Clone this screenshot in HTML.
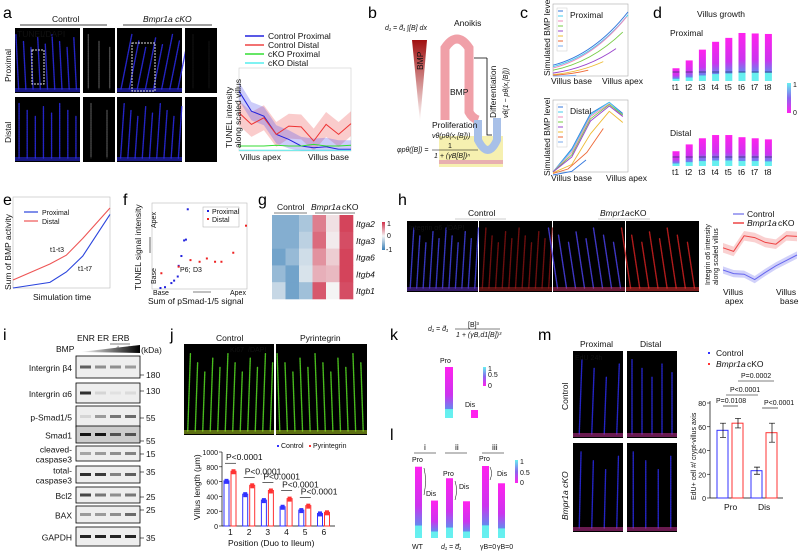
<!DOCTYPE html>
<html><head><meta charset="utf-8">
<style>
html,body{margin:0;padding:0;background:#fff;}
svg{display:block;font-family:"Liberation Sans",sans-serif;}
.pl{font-size:16px;fill:#000;}
.t{font-size:8.5px;fill:#111;}
.s{font-size:7px;fill:#111;}
</style></head>
<body>
<svg id="fig" width="800" height="552" viewBox="0 0 800 552" xmlns="http://www.w3.org/2000/svg">
<defs>
<linearGradient id="bmpTri" x1="0" y1="0" x2="0" y2="1"><stop offset="0" stop-color="#a01010"/><stop offset="1" stop-color="#fff"/></linearGradient>
<linearGradient id="vil" x1="0" y1="0" x2="0" y2="1"><stop offset="0" stop-color="#ff22ee"/><stop offset="0.55" stop-color="#cc33ee"/><stop offset="0.82" stop-color="#6688ee"/><stop offset="0.83" stop-color="#66eeee"/><stop offset="1" stop-color="#66f0f0"/></linearGradient>
<linearGradient id="cbar" x1="0" y1="0" x2="0" y2="1"><stop offset="0" stop-color="#66f0f0"/><stop offset="0.5" stop-color="#8866ee"/><stop offset="1" stop-color="#ff22ee"/></linearGradient>
<linearGradient id="hbar" x1="0" y1="0" x2="0" y2="1"><stop offset="0" stop-color="#d0304a"/><stop offset="0.5" stop-color="#f4f4f4"/><stop offset="1" stop-color="#3a80b8"/></linearGradient>
<linearGradient id="wedge" x1="0" y1="0" x2="1" y2="0"><stop offset="0" stop-color="#fff"/><stop offset="1" stop-color="#000"/></linearGradient>
</defs>
<g id="root"></g>
</svg>
<script>
// ---------- data arrays ----------
var aCtrlProx=[0.72,0.48,0.42,0.2,0.14,0.06,0.04,0.05,0.02,0.02];
var aCtrlDist=[0.46,0.32,0.4,0.2,0.3,0.29,0.12,0.32,0.2,0.33];
var aCkoProx=[0.06,0.06,0.06,0.07,0.06,0.06,0.08,0.06,0.06,0.07];
var aCkoDist=[0.01,0.01,0.01,0.01,0.01,0.01,0.01,0.01,0.01,0.01];
var cProxEndX=[1.0,1.0,0.98,0.93,0.84,0.67,0.47,0.31];
var cProxY0=[0.15,0.13,0.11,0.08,0.04,0.02,0.01,0.0];
var cProxY1=[0.89,0.85,0.82,0.61,0.38,0.2,0.08,0.01];
var cDistA=[[0.04,0.35,0.82,0.97,0.82],[0.04,0.33,0.8,0.97,0.8],[0.04,0.3,0.78,0.95,0.78],[0.04,0.27,0.75,0.94,0.8],[0.04,0.24,0.72,0.92,0.78],[0.03,0.14,0.55,0.85,0.7]];
var cDistRed=[0.02,0.08,0.3,0.62];
var cDistBlue=[0.0,0.05,0.2];
var dProxTop=[0.26,0.42,0.64,0.8,0.88,0.98,0.97,0.96];
var dDistTop=[0.41,0.6,0.77,0.86,0.86,0.8,0.77,0.74];
var dTicks=["t1","t2","t3","t4","t5","t6","t7","t8"];
var eTime=[0,0.38,0.55,0.72,1.0];
var eProx=[0.0,0.07,0.2,0.4,0.92];
var eDist=[0.1,0.3,0.41,0.62,1.0];
var fProxX=[0.36,0.34,0.32,0.29,0.26,0.25,0.21,0.18,0.11,0.06];
var fProxY=[0.96,0.59,0.58,0.39,0.27,0.14,0.09,0.06,0.01,0.0];
var fDistX=[1.0,0.86,0.73,0.66,0.57,0.49,0.39,0.26,0.07];
var fDistY=[0.76,0.43,0.32,0.32,0.36,0.32,0.34,0.26,0.18];
var gRows=["Itga2","Itga3","Itga6","Itgb4","Itgb1"];
var gVals=[[-0.6,-0.6,-0.4,0.6,0.1,0.9],[-0.6,-0.6,-0.3,0.7,0.05,0.85],[-0.7,-0.5,-0.2,0.5,0.2,0.9],[-0.5,-0.7,-0.15,0.35,0.3,0.9],[-0.25,-0.7,-0.45,0.8,0.0,0.85]];
var hCtrl=[0.25,0.19,0.18,0.09,0.21,0.32,0.41,0.5];
var hCko=[0.62,0.56,0.82,0.79,0.71,0.68,0.82,0.81];
var iRows=["Intergrin \u03b24","Intergrin \u03b16","p-Smad1/5","Smad1","cleaved-caspase3","total-caspase3","Bcl2","BAX","GAPDH"];
var iKda=["180","130","55","55","15","35","25","25","35"];
var iBand=[[0.6,0.4,0.4,0.35],[0.8,0.1,0.05,0.08],[0.1,0.35,0.5,0.55],[0.9,0.9,0.6,0.6],[0.3,0.35,0.4,0.45],[0.8,0.75,0.45,0.6],[0.7,0.5,0.4,0.5],[0.35,0.35,0.4,0.55],[0.85,0.85,0.85,0.85]];
var jPos=["1","2","3","4","5","6"];
var jCtrl=[610,430,350,260,215,170];
var jPyr=[740,550,480,370,275,185];
var jP=["P<0.0001","P<0.0001","P<0.0001","P<0.0001","P<0.0001"];
var jTicks=[0,200,400,600,800,1000];
var kProTop=[1.0];
var lTop=[0.99,0.52,0.83,0.51,1.0,0.76];
var lLab=["WT","d\u2081 = d\u0305\u2081","\u03b3B=0","\u03b3B=0"];
var mCats=["Pro","Dis"];
var mCtrl=[57,23];
var mCko=[63,55];
var mErrC=[6,3];
var mErrK=[4,8];
var mTicks=[0,20,40,60,80];

// ---------- helpers ----------
var NS="http://www.w3.org/2000/svg";
var root=document.getElementById('root');
function mk(tag,at,par){var e=document.createElementNS(NS,tag);for(var k in at)e.setAttribute(k,at[k]);(par||root).appendChild(e);return e;}
function tx(x,y,s,cls,extra){var e=mk('text',Object.assign({x:x,y:y,'class':cls||'t'},extra||{}));e.textContent=s;return e;}
function lin(d0,d1,r0,r1){return function(v){return r0+(v-d0)/(d1-d0)*(r1-r0);};}
function pathOf(xs,ys){var d='';for(var i=0;i<xs.length;i++)d+=(i?'L':'M')+xs[i].toFixed(1)+' '+ys[i].toFixed(1);return d;}
var el;

// panel labels
[["a",3,18],["b",368,18],["c",520,18],["d",653,18],["e",3,205],["f",123,205],["g",258,205],["h",398,205],["i",3,340],["j",170,340],["k",390,340],["l",390,440],["m",538,340]].forEach(function(p){
 el=tx(p[1],p[2],p[0],'pl');
 
 
});

// micrograph helper
function micro(x,y,w,h,col,n,name,tilt,col2){
 var g=mk('g',{});
 
 
 mk('rect',{x:x,y:y,width:w,height:h,fill:'#000'},g);
 for(var i=0;i<n;i++){
  var bx=x+(i+0.5)*w/n, top=y+h*(0.1+0.25*((i*37)%5)/5);
  mk('path',{d:'M'+bx+' '+(y+h-4)+' L'+(bx+tilt*(y+h-top)/h)+' '+top,stroke:col,'stroke-width':1.4,fill:'none','stroke-linecap':'round','stroke-dasharray':'1.5,0.8',opacity:0.85},g);
 }
 mk('rect',{x:x,y:y+h-5,width:w,height:4,fill:col2||col,opacity:0.55},g);
 return g;
}

// ---------- panel a ----------
tx(52,22,'Control','t');
mk('line',{x1:20,y1:25,x2:107,y2:25,stroke:'#000','stroke-width':0.8});
el=tx(143,22,'Bmpr1a cKO','t',{'font-style':'italic'});
mk('line',{x1:123,y1:25,x2:212,y2:25,stroke:'#000','stroke-width':0.8});
micro(15,28,65,65,'#2a2ae8',9,'a-control-proximal-image',-3);
micro(83,28,32,65,'#555',3,'a-control-proximal-zoom',0,'#000');
micro(117,28,65,65,'#2a2ae8',8,'a-cko-proximal-image',12);
micro(185,28,32,65,'#111',2,'a-cko-proximal-zoom',0,'#000');
micro(15,97,65,65,'#2a2ae8',8,'a-control-distal-image',0);
micro(83,97,32,65,'#555',2,'a-control-distal-zoom',0,'#000');
micro(117,97,65,65,'#2a2ae8',9,'a-cko-distal-image',4);
micro(185,97,32,65,'#000',1,'a-cko-distal-zoom',0,'#000');
tx(17,37,'TUNEL','t',{fill:'#e00','font-size':'8px'});
tx(43,37,'/DAPI','t',{fill:'#33f','font-size':'8px'});
tx(11,82,'Proximal','t',{transform:'rotate(-90 11 82)'});
tx(11,143,'Distal','t',{transform:'rotate(-90 11 143)'});
mk('rect',{x:32,y:50,width:12,height:34,fill:'none',stroke:'#ddd','stroke-dasharray':'2,1'});
mk('rect',{x:132,y:43,width:23,height:48,fill:'none',stroke:'#ddd','stroke-dasharray':'2,1'});
(function(){
 var X=lin(0,9,239,351),Y=lin(0,1,151,68);
 var g=mk('g',{});
 mk('rect',{x:239,y:68,width:112,height:83,fill:'#fff',stroke:'#ccc','stroke-width':0.6},g);
 function band(arr,w,col,name){
  var xs=[],yu=[],yd=[];for(var i=0;i<arr.length;i++){xs.push(X(i));yu.push(Y(arr[i]+w));yd.push(Y(Math.max(0,arr[i]-w)));}
  var d=pathOf(xs,yu);for(var j=xs.length-1;j>=0;j--)d+='L'+xs[j]+' '+yd[j];
  el=mk('path',{d:d+'Z',fill:col,opacity:0.3},g);
  
  
 }
 function line(arr,col,name){var xs=[],ys=[];for(var i=0;i<arr.length;i++){xs.push(X(i));ys.push(Y(arr[i]));}
  el=mk('path',{d:pathOf(xs,ys),stroke:col,'stroke-width':1,fill:'none'},g);
  
  }
 band(aCtrlDist,0.15,'#e55','control-distal');band(aCtrlProx,0.11,'#55e','control-proximal');
 line(aCtrlProx,'#22d','control-proximal-line');line(aCtrlDist,'#e33','control-distal-line');
 line(aCkoProx,'#3d3','cko-proximal-line');line(aCkoDist,'#5ee','cko-distal-line');
 var L=[['Control Proximal','#22d'],['Control Distal','#e44'],['cKO Proximal','#3d3'],['cKO Distal','#5ee']];
 L.forEach(function(l,i){var yy=36+i*9;
  el=mk('line',{x1:245,y1:yy,x2:264,y2:yy,stroke:l[1],'stroke-width':1.5});
  
  
  tx(268,yy+3,l[0],'t');});
 tx(240,160,'Villus apex','t');tx(308,160,'Villus base','t');
 tx(232,148,'TUNEL intensity','t',{transform:'rotate(-90 232 148)'});
 tx(241,148,'along scaled villus','t',{transform:'rotate(-90 241 148)'});
})();

// ---------- panel b ----------
(function(){
 var g=mk('g',{});
 mk('rect',{x:439,y:136,width:64,height:31,fill:'#f6f0b0'},g);
 mk('rect',{x:439,y:160,width:64,height:4,fill:'#e8b0b0'},g);
 mk('polygon',{points:'412,40 427,40 420,122',fill:'url(#bmpTri)'},g);
 tx(423,70,'BMP','t',{transform:'rotate(-90 423 70)',fill:'#fff'});
 mk('path',{d:'M445 120 L445 48 Q457 30 469 48 L469 112 Q472 118 478 120',stroke:'#f0a0a8','stroke-width':9,fill:'none'},g);
 mk('path',{d:'M478 120 L478 140 Q488 160 497 140 L497 118',stroke:'#a8c0e8','stroke-width':8,fill:'none'},g);
 tx(450,95,'BMP','t');
 tx(432,128,'Proliferation','t');
 tx(432,138,'v\u03b8(p\u03b8(x,[B]))','s',{'font-style':'italic'});
 tx(397,152,'\u03c6p\u03b8([B]) =','s',{'font-style':'italic'});
 tx(448,148,'1','s');mk('line',{x1:432,y1:150,x2:478,y2:150,stroke:'#000','stroke-width':0.5},g);
 tx(434,158,'1 + (\u03b3B[B])\u207f','s',{'font-style':'italic'});
 tx(385,30,'d\u2081 = d\u0303\u2081 \u222b[B] dx','s',{'font-style':'italic'});
 tx(454,26,'Anoikis','t');
 mk('path',{d:'M487 58 L474 58 M487 58 L487 135 L492 135',stroke:'#000','stroke-width':0.8,fill:'none'},g);
 tx(496,118,'Differentiation','t',{transform:'rotate(-90 496 118)'});
 tx(508,118,'v\u03b8(1 \u2212 p\u03b8(x,[B]))','s',{transform:'rotate(-90 508 118)','font-style':'italic'});
})();

// ---------- panel c ----------
(function(){
 var cols=['#3377dd','#44ccee','#ee88bb','#77cc44','#9944cc','#eebb33','#ee6633','#77aaee'];
 function frame(y0,name,title){
  var g=mk('g',{});
  mk('rect',{x:553,y:y0,width:75,height:72,fill:'#fff',stroke:'#aaa','stroke-width':0.6},g);
  mk('rect',{x:557,y:y0+4,width:10,height:43,fill:'#fff',stroke:'#ccc','stroke-width':0.5},g);
  for(var i=0;i<8;i++)mk('line',{x1:558,y1:y0+7+i*5,x2:563,y2:y0+7+i*5,stroke:cols[i],'stroke-width':1},g);
  tx(570,y0+14,title,'t');
  return g;}
 var g1=frame(4,'c-proximal-chart','Proximal');
 var X=lin(0,1,553,628),Y=lin(0,1,76,4);
 for(var i=0;i<8;i++){var ex=cProxEndX[i],a=cProxY0[i],b=cProxY1[i];
  el=mk('path',{d:'M'+X(0)+' '+Y(a)+' Q'+X(ex*0.55)+' '+Y(a+(b-a)*0.2)+' '+X(ex)+' '+Y(b),stroke:cols[i],'stroke-width':0.9,fill:'none'},g1);
  
  }
 var g2=frame(100,'c-distal-chart','Distal');
 var Y2=lin(0,1,175,100),xs=[0,0.25,0.5,0.75,0.93];
 for(var j=0;j<cDistA.length;j++){var ys=cDistA[j].map(Y2);
  el=mk('path',{d:pathOf(xs.map(X),ys),stroke:cols[j],'stroke-width':0.9,fill:'none','stroke-linejoin':'round'},g2);
  
  }
 el=mk('path',{d:pathOf([0,0.2,0.45,0.67].map(X),cDistRed.map(Y2)),stroke:'#ee6633','stroke-width':0.9,fill:'none'},g2);
 
 
 el=mk('path',{d:pathOf([0,0.25,0.44].map(X),cDistBlue.map(Y2)),stroke:'#3377dd','stroke-width':0.9,fill:'none'},g2);
 
 
 tx(551,84,'Villus base','t');tx(602,84,'Villus apex','t');
 tx(551,181,'Villus base','t');tx(606,181,'Villus apex','t');
 tx(550,76,'Simulated BMP level','t',{transform:'rotate(-90 550 76)'});
 tx(550,176,'Simulated BMP level','t',{transform:'rotate(-90 550 176)'});
})();

// ---------- panel d ----------
(function(){
 tx(697,17,'Villus growth','t');
 tx(670,36,'Proximal','t');tx(670,136,'Distal','t');
 var X=function(i){return 676+i*13.2;};
 function bars(tops,base,h,name){
  for(var i=0;i<tops.length;i++){var top=base-tops[i]*h;
   el=mk('rect',{x:X(i)-3.5,y:top,width:7,height:base-top,fill:'url(#vil)'});
   
   
   mk('line',{x1:X(i)-3.5,y1:base-9,x2:X(i)+3.5,y2:base-9,stroke:'#236','stroke-width':0.7});
   tx(X(i)-4,base+9,dTicks[i],'t');}
 }
 bars(dProxTop,81,49,'d-proximal-bar');
 bars(dDistTop,166,36,'d-distal-bar');
 el=mk('rect',{x:787,y:83,width:4,height:30,fill:'url(#cbar)'});
 
 
 tx(793,87,'1','s');tx(793,115,'0','s');
})();

// ---------- panel e ----------
(function(){
 var X=lin(0,1,13,110),Y=lin(0,1,288,208);
 mk('rect',{x:13,y:197,width:97,height:91,fill:'none',stroke:'#bbb','stroke-width':0.6});
 el=mk('path',{d:pathOf(eTime.map(X),eProx.map(Y)),stroke:'#2a44dd','stroke-width':1.1,fill:'none'});
 
 
 el=mk('path',{d:pathOf(eTime.map(X),eDist.map(Y)),stroke:'#e55','stroke-width':1.1,fill:'none'});
 
 
 mk('line',{x1:24,y1:212,x2:38,y2:212,stroke:'#2a44dd','stroke-width':1.2});tx(42,215,'Proximal','s');
 mk('line',{x1:24,y1:221,x2:38,y2:221,stroke:'#e55','stroke-width':1.2});tx(42,224,'Distal','s');
 tx(50,252,'t1-t3','s',{fill:'#c33'});tx(78,271,'t1-t7','s',{fill:'#48c'});
 tx(33,300,'Simulation time','t');
 tx(11,290,'Sum of BMP activity','t',{transform:'rotate(-90 11 290)'});
})();

// ---------- panel f ----------
(function(){
 var X=lin(0,1,155,246),Y=lin(0,1,288,206);
 mk('rect',{x:152,y:203,width:95,height:86,fill:'none',stroke:'#bbb','stroke-width':0.6});
 for(var i=0;i<fProxX.length;i++){el=mk('rect',{x:X(fProxX[i])-1,y:Y(fProxY[i])-1,width:2,height:2,fill:'#22d'});
  
  }
 for(var j=0;j<fDistX.length;j++){el=mk('rect',{x:X(fDistX[j])-1,y:Y(fDistY[j])-1,width:2,height:2,fill:'#e22'});
  
  }
 mk('rect',{x:203,y:207,width:36,height:20,fill:'#fff',stroke:'#aaa','stroke-width':0.5});
 mk('rect',{x:207,y:210,width:2,height:2,fill:'#22d'});tx(212,214,'Proximal','s');
 mk('rect',{x:207,y:218,width:2,height:2,fill:'#e22'});tx(212,222,'Distal','s');
 tx(180,272,'P6;','s',{fill:'#33e'});tx(193,272,'D3','s',{fill:'#e33'});
 tx(153,295,'Base','s');tx(230,295,'Apex','s');
 mk('line',{x1:193,y1:292,x2:211,y2:292,stroke:'#000','stroke-width':0.6});
 tx(144,228,'Apex','s',{transform:'rotate(-90 150 222)'});
 tx(144,284,'Base','s',{transform:'rotate(-90 150 278)'});
 mk('line',{x1:150,y1:237,x2:150,y2:253,stroke:'#000','stroke-width':0.6});
 tx(148,304,'Sum of pSmad-1/5 signal','t');
 tx(141,290,'TUNEL signal intensity','t',{transform:'rotate(-90 141 290)'});
})();

// ---------- panel g ----------
(function(){
 tx(277,210,'Control','t');mk('line',{x1:274,y1:213,x2:307,y2:213,stroke:'#000','stroke-width':0.6});
 tx(311,210,'Bmpr1a','t',{'font-style':'italic'});tx(342,210,'cKO','t');mk('line',{x1:315,y1:213,x2:355,y2:213,stroke:'#000','stroke-width':0.6});
 function col(v){var a=Math.abs(v);var c=v<0?[58,128,184]:[208,48,74];
  var r=Math.round(244+(c[0]-244)*a),g=Math.round(244+(c[1]-244)*a),b=Math.round(244+(c[2]-244)*a);return 'rgb('+r+','+g+','+b+')';}
 var cw=13.5,rh=16.8;
 for(var r=0;r<gVals.length;r++){for(var c=0;c<gVals[r].length;c++){
  el=mk('rect',{x:272+c*cw,y:215+r*rh,width:cw+0.3,height:rh+0.3,fill:col(gVals[r][c])});
  
  }
  tx(356,215+r*rh+12,gRows[r],'t',{'font-style':'italic'});}
 el=mk('rect',{x:382,y:222,width:3,height:28,fill:'url(#hbar)'});
 
 
 tx(387,226,'1','s');tx(387,238,'0','s');tx(386,252,'-1','s');
})();

// ---------- panel h ----------
tx(468,216,'Control','t');mk('line',{x1:455,y1:219,x2:506,y2:219,stroke:'#999','stroke-width':0.6});
tx(600,216,'Bmpr1a','t',{'font-style':'italic'});tx(630,216,'cKO','t');mk('line',{x1:598,y1:219,x2:650,y2:219,stroke:'#999','stroke-width':0.6});
micro(407,221,71,71,'#4040e0',11,'h-control-merge',4,'#6030c0');
micro(479,221,73,71,'#801010',11,'h-control-integrin',4,'#a02020');
micro(553,221,72,71,'#4a40e8',8,'h-cko-merge',-10,'#c03060');
micro(626,221,73,71,'#d02020',8,'h-cko-integrin',-10,'#e03030');
tx(409,230,'Integrin \u03b16','s',{fill:'#f33'});tx(446,230,'/DAPI','s',{fill:'#55f'});
(function(){
 var X=lin(0,7,723,797),Y=lin(0,1,285,225);
 function band(arr,w,col,name){var xs=[],yu=[],yd=[];for(var i=0;i<arr.length;i++){xs.push(X(i));yu.push(Y(arr[i]+w));yd.push(Y(arr[i]-w));}
  var d=pathOf(xs,yu);for(var j=xs.length-1;j>=0;j--)d+='L'+xs[j]+' '+yd[j];
  el=mk('path',{d:d+'Z',fill:col,opacity:0.3});
  
  }
 band(hCtrl,0.06,'#66e','h-control-band');band(hCko,0.08,'#e66','h-cko-band');
 el=mk('path',{d:pathOf(hCtrl.map(function(v,i){return X(i);}),hCtrl.map(Y)),stroke:'#66e','stroke-width':1,fill:'none'});
 
 
 el=mk('path',{d:pathOf(hCko.map(function(v,i){return X(i);}),hCko.map(Y)),stroke:'#e44','stroke-width':1,fill:'none'});
 
 
 mk('line',{x1:733,y1:214,x2:744,y2:214,stroke:'#88e','stroke-width':1.5});tx(747,217,'Control','t');
 mk('line',{x1:733,y1:223,x2:744,y2:223,stroke:'#e44','stroke-width':1.5});tx(747,226,'Bmpr1a','t',{'font-style':'italic'});tx(778,226,'cKO','t');
 tx(723,295,'Villus','t');tx(725,304,'apex','t');tx(776,295,'Villus','t');tx(780,304,'base','t');
 tx(710,285,'Integrin \u03b16 intensity','s',{transform:'rotate(-90 710 285)'});
 tx(718,285,'along scaled villus','s',{transform:'rotate(-90 718 285)'});
})();

// ---------- panel i ----------
(function(){
 tx(77,341,'ENR ER','t');tx(112,341,'ERB','t');mk('line',{x1:110,y1:344,x2:130,y2:344,stroke:'#000','stroke-width':0.6});
 tx(56,352,'BMP','t');tx(116,350,'+','s');tx(127,350,'++','s');
 mk('polygon',{points:'80,352 140,345 140,353',fill:'url(#wedge)'});
 tx(141,353,'(kDa)','t');
 var tops=[356,383,406,426,446,466,487,506,527],bots=[378,403,427,443,461,483,503,523,546],kd=[375,391,418,441,454,472,497,510,538];
 for(var r=0;r<iRows.length;r++){
  var g=mk('g',{});
  mk('rect',{x:76,y:tops[r],width:64,height:bots[r]-tops[r],fill:(r==3?'#ccc':'#eee'),stroke:'#000','stroke-width':0.8},g);
  for(var c=0;c<4;c++){var v=iBand[r][c];
   el=mk('rect',{x:80+c*15,y:(tops[r]+bots[r])/2-1.5,width:11,height:3,fill:'#000',opacity:v},g);
   
   }
  mk('line',{x1:140,y1:kd[r],x2:144,y2:kd[r],stroke:'#000','stroke-width':0.6});
  tx(146,kd[r]+3,iKda[r],'t');
  var lab=iRows[r],mid=(tops[r]+bots[r])/2;
  if(lab.indexOf('-caspase3')>0){var p=lab.split('-');tx(72,mid-1,p[0]+'-','t',{'text-anchor':'end','font-size':'10px'});tx(72,mid+9,p[1],'t',{'text-anchor':'end','font-size':'10px'});}
  else tx(72,mid+4,lab,'t',{'text-anchor':'end','font-size':'10px'});
 }
})();

// ---------- panel j ----------
tx(216,341,'Control','t');tx(300,341,'Pyrintegrin','t');
micro(184,344,90,91,'#55dd22',12,'j-control-image',3,'#aacc22');
micro(276,344,91,91,'#55dd22',12,'j-pyrintegrin-image',-3,'#aacc22');
tx(230,352,'Ki67','s',{fill:'#f33'});tx(248,352,'/DAPI','s',{fill:'#6e3'});
(function(){
 var Y=lin(0,1000,526,452),X=function(i){return 230+i*18.7;};
 mk('line',{x1:222,y1:452,x2:222,y2:526,stroke:'#000','stroke-width':0.7});
 mk('line',{x1:222,y1:526,x2:335,y2:526,stroke:'#000','stroke-width':0.7});
 jTicks.forEach(function(t){mk('line',{x1:219,y1:Y(t),x2:222,y2:Y(t),stroke:'#000','stroke-width':0.6});tx(218,Y(t)+3,String(t),'s',{'text-anchor':'end'});});
 for(var i=0;i<jPos.length;i++){
  el=mk('rect',{x:X(i)-6,y:Y(jCtrl[i]),width:5,height:526-Y(jCtrl[i]),fill:'#fff',stroke:'#33f','stroke-width':1});
  
  
  el=mk('rect',{x:X(i)+1,y:Y(jPyr[i]),width:5,height:526-Y(jPyr[i]),fill:'#fff',stroke:'#f33','stroke-width':1});
  
  
  mk('rect',{x:X(i)-5.5,y:Y(jCtrl[i])-2,width:4,height:5,fill:'#33f'});
  mk('rect',{x:X(i)+1.5,y:Y(jPyr[i])-2,width:4,height:5,fill:'#f33'});
  tx(X(i)-2,535,jPos[i],'t');
  if(i<5){var yy=Y(jPyr[i])-8;mk('line',{x1:X(i)-5,y1:yy,x2:X(i)+6,y2:yy,stroke:'#000','stroke-width':0.6});tx(X(i)-4,yy-3,jP[i],'t');}
 }
 mk('rect',{x:277,y:445,width:2,height:2,fill:'#33f'});tx(281,448,'Control','s');
 mk('rect',{x:309,y:445,width:2,height:2,fill:'#f33'});tx(313,448,'Pyrintegrin','s');
 tx(228,546,'Position (Duo to Ileum)','t');
 tx(200,520,'Villus length (\u03bcm)','t',{transform:'rotate(-90 200 520)'});
})();

// ---------- panel k ----------
(function(){
 tx(428,331,'d\u2081 = d\u0303\u2081','s',{'font-style':'italic'});
 tx(468,327,'[B]\u00b3','s');mk('line',{x1:455,y1:329,x2:500,y2:329,stroke:'#000','stroke-width':0.5});
 tx(456,337,'1 + (\u03b3B,d1[B])\u00b3','s',{'font-style':'italic'});
 tx(440,363,'Pro','s');
 var Y=lin(0,1,418,367);
 el=mk('rect',{x:445,y:Y(kProTop[0]),width:8,height:418-Y(kProTop[0]),fill:'url(#vil)'});
 
 
 tx(465,407,'Dis','s');
 el=mk('rect',{x:471,y:410,width:7,height:8,fill:'#ff22ee'});
 
 
 mk('rect',{x:483,y:367,width:3,height:19,fill:'url(#cbar)'});
 tx(488,371,'1','s');tx(488,377,'0.5','s');tx(488,388,'0','s');
})();

// ---------- panel l ----------
(function(){
 [['i',424],['ii',455],['iii',492]].forEach(function(h){tx(h[1],450,h[0],'t');mk('line',{x1:h[1]-10,y1:453,x2:h[1]+12,y2:453,stroke:'#000','stroke-width':0.6});});
 var xs=[415,431,446,463,482,498],Y=lin(0,1,538,466);
 for(var i=0;i<6;i++){
  el=mk('rect',{x:xs[i],y:Y(lTop[i]),width:7,height:538-Y(lTop[i]),fill:'url(#vil)'});
  
  }
 tx(412,462,'Pro','s');tx(443,476,'Pro','s');tx(479,461,'Pro','s');
 tx(426,496,'Dis','s');tx(459,489,'Dis','s');tx(497,476,'Dis','s');
 mk('path',{d:'M424 468 Q427 480 424 495',stroke:'#000','stroke-width':0.5,fill:'none'});
 mk('path',{d:'M455 481 Q458 490 455 500',stroke:'#000','stroke-width':0.5,fill:'none'});
 mk('path',{d:'M490 467 Q493 473 490 480',stroke:'#000','stroke-width':0.5,fill:'none'});
 mk('rect',{x:515,y:460,width:3,height:23,fill:'url(#cbar)'});
 tx(520,464,'1','s');tx(520,475,'0.5','s');tx(520,485,'0','s');
 tx(412,549,lLab[0],'s');tx(441,549,lLab[1],'s',{'font-style':'italic'});tx(480,549,lLab[2],'s');tx(497,549,lLab[3],'s');
})();

// ---------- panel m ----------
tx(580,347,'Proximal','t');tx(640,347,'Distal','t');
micro(573,351,50,87,'#2a2ae8',4,'m-control-proximal',3,'#c03090');
micro(627,351,50,87,'#2a2ae8',5,'m-control-distal',0,'#c03090');
micro(573,443,50,89,'#2a2ae8',4,'m-cko-proximal',2,'#c03090');
micro(627,443,50,89,'#2a2ae8',4,'m-cko-distal',0,'#c03090');
tx(575,360,'EdU 24h','s',{fill:'#f33'});
tx(568,410,'Control','t',{transform:'rotate(-90 568 410)'});
tx(568,520,'Bmpr1a cKO','t',{transform:'rotate(-90 568 520)','font-style':'italic'});
(function(){
 var Y=lin(0,80,498,403),cx=[723,755];
 mk('line',{x1:710,y1:401,x2:710,y2:498,stroke:'#000','stroke-width':0.7});
 mk('line',{x1:710,y1:498,x2:783,y2:498,stroke:'#000','stroke-width':0.7});
 mTicks.forEach(function(t){mk('line',{x1:707,y1:Y(t),x2:710,y2:Y(t),stroke:'#000','stroke-width':0.6});tx(706,Y(t)+3,String(t),'s',{'text-anchor':'end'});});
 for(var i=0;i<2;i++){
  var xc=cx[i]+(i?2:0);
  el=mk('rect',{x:xc-6,y:Y(mCtrl[i]),width:11,height:498-Y(mCtrl[i]),fill:'#fff',stroke:'#33f','stroke-width':1});
  
  
  el=mk('rect',{x:xc+9,y:Y(mCko[i]),width:11,height:498-Y(mCko[i]),fill:'#fff',stroke:'#f33','stroke-width':1});
  
  
  mk('path',{d:'M'+(xc-3)+' '+Y(mCtrl[i]+mErrC[i])+'h6 M'+xc+' '+Y(mCtrl[i]+mErrC[i])+'V'+Y(mCtrl[i]-mErrC[i])+' M'+(xc-3)+' '+Y(mCtrl[i]-mErrC[i])+'h6',stroke:'#000','stroke-width':0.7});
  mk('path',{d:'M'+(xc+12)+' '+Y(mCko[i]+mErrK[i])+'h6 M'+(xc+15)+' '+Y(mCko[i]+mErrK[i])+'V'+Y(mCko[i]-mErrK[i])+' M'+(xc+12)+' '+Y(mCko[i]-mErrK[i])+'h6',stroke:'#000','stroke-width':0.7});
  tx(xc+1,510,mCats[i],'t');
 }
 mk('line',{x1:723,y1:406,x2:738,y2:406,stroke:'#000','stroke-width':0.6});tx(716,403,'P=0.0108','s');
 mk('line',{x1:726,y1:395,x2:758,y2:395,stroke:'#000','stroke-width':0.6});tx(730,392,'P<0.0001','s');
 mk('line',{x1:738,y1:381,x2:774,y2:381,stroke:'#000','stroke-width':0.6});tx(741,378,'P=0.0002','s');
 mk('line',{x1:762,y1:408,x2:778,y2:408,stroke:'#000','stroke-width':0.6});tx(764,405,'P<0.0001','s');
 mk('rect',{x:708,y:352,width:2,height:2,fill:'#33f'});tx(716,356,'Control','t');
 mk('rect',{x:708,y:363,width:2,height:2,fill:'#f33'});tx(716,367,'Bmpr1a','t',{'font-style':'italic'});tx(747,367,'cKO','t');
 tx(696,500,'EdU+ cell #/ crypt-villus axis','s',{transform:'rotate(-90 696 500)'});
})();
</script>
</body></html>
